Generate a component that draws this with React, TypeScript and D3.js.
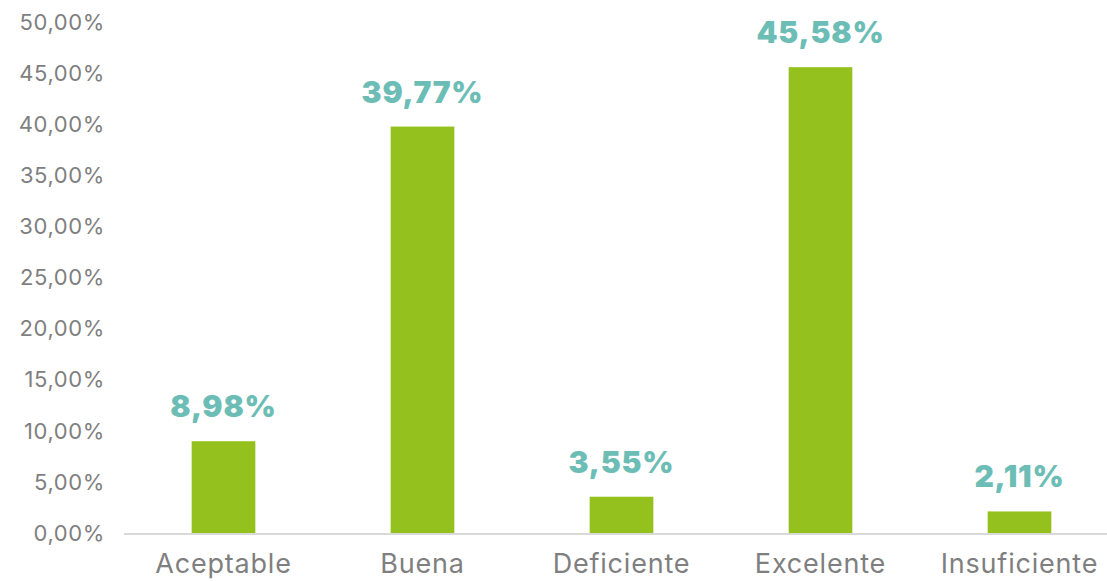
import { useEffect, useRef } from 'react'
import * as d3 from 'd3'

const categories = ['Aceptable', 'Buena', 'Deficiente', 'Excelente', 'Insuficiente']
const values = [8.98, 39.77, 3.55, 45.58, 2.11]
const yTicks = [0, 5, 10, 15, 20, 25, 30, 35, 40, 45, 50]

const W = 1107
const H = 581
const M = { top: 22, right: -12, bottom: 48, left: 124 }

const fmt = (v: number) => v.toFixed(2).replace('.', ',') + '%'

export default function App() {
  const svgRef = useRef<SVGSVGElement>(null)

  useEffect(() => {
    const svg = d3.select(svgRef.current)
    svg.selectAll('*').remove()

    const x = d3.scaleBand<string>()
      .domain(categories)
      .range([M.left, W - M.right])
      .paddingInner(0.68)
      .paddingOuter(0.34)

    const y = d3.scaleLinear().domain([0, 50]).range([H - M.bottom, M.top])

    // y tick labels (no axis line)
    svg.append('g').selectAll('text').data(yTicks).join('text')
      .attr('x', 105).attr('y', (d) => y(d))
      .attr('dy', '0.35em')
      .attr('text-anchor', 'end')
      .attr('font-family', 'Inter, sans-serif')
      .attr('font-size', 22)
      .attr('letter-spacing', 0.6)
      .attr('fill', '#7f7f7f')
      .text((d) => fmt(d))

    // bars
    svg.append('g').selectAll('rect').data(values).join('rect')
      .attr('x', (_, i) => x(categories[i])!)
      .attr('width', x.bandwidth())
      .attr('y', (d) => y(d))
      .attr('height', (d) => y(0) - y(d))
      .attr('fill', '#95c11f')

    // baseline
    svg.append('line')
      .attr('x1', M.left).attr('x2', W)
      .attr('y1', y(0) + 1).attr('y2', y(0) + 1)
      .attr('stroke', '#d9d9d9').attr('stroke-width', 2)

    // value labels
    svg.append('g').selectAll('text').data(values).join('text')
      .attr('x', (_, i) => x(categories[i])! + x.bandwidth() / 2)
      .attr('y', (d) => y(d) - 24)
      .attr('text-anchor', 'middle')
      .attr('font-family', 'Inter, sans-serif')
      .attr('font-weight', 900)
      .attr('font-size', 30)
      .attr('letter-spacing', 0.8)
      .attr('fill', '#6cbdb5')
      .text((d) => fmt(d))

    // category labels
    svg.append('g').selectAll('text').data(categories).join('text')
      .attr('x', (d) => x(d)! + x.bandwidth() / 2)
      .attr('y', H - 8)
      .attr('text-anchor', 'middle')
      .attr('font-family', 'Inter, sans-serif')
      .attr('font-size', 27)
      .attr('letter-spacing', 0.8)
      .attr('fill', '#7f7f7f')
      .text((d) => d)
  }, [])

  return (
    <svg
      ref={svgRef}
      width={W}
      height={H}
      style={{ position: 'absolute', left: 0, top: 0, background: '#fff' }}
    />
  )
}
